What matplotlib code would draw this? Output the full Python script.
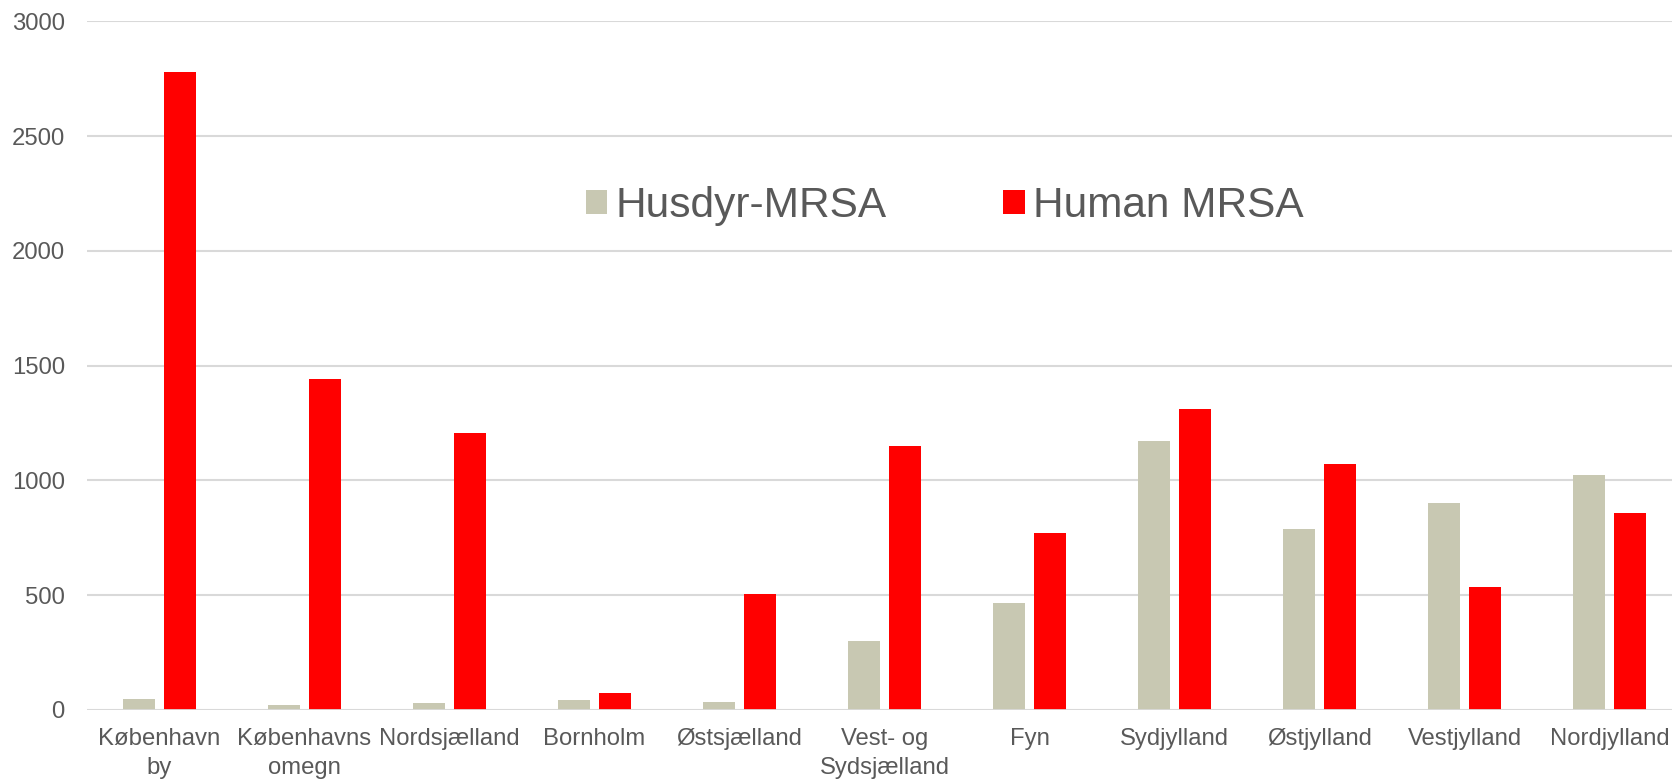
import matplotlib
matplotlib.use("Agg")
import matplotlib.pyplot as plt
import numpy as np
from matplotlib.patches import Patch

categories = ["København\nby", "Københavns\nomegn", "Nordsjælland", "Bornholm",
              "Østsjælland", "Vest- og\nSydsjælland", "Fyn", "Sydjylland",
              "Østjylland", "Vestjylland", "Nordjylland"]
husdyr = [50, 20, 30, 45, 33, 302, 464, 1170, 789, 901, 1022]
human = [2780, 1440, 1207, 74, 506, 1152, 771, 1310, 1073, 534, 859]
series_names = ["Husdyr-MRSA", "Human MRSA"]
colors = ["#C8C8B2", "#FF0000"]

plt.rcParams['font.family'] = ['Liberation Sans', 'DejaVu Sans']
text_color = "#595959"
grid_color = "#D9D9D9"

fig = plt.figure(figsize=(16.72, 7.8), dpi=100)
ax = fig.add_axes([87/1672, 70/780, 1595/1672, 688.7/780])

x = np.arange(len(categories))
w = 0.22
off = 0.1415
ax.bar(x - off, husdyr, width=w, color=colors[0], zorder=3)
ax.bar(x + off, human, width=w, color=colors[1], zorder=3)

ax.set_xlim(-0.5, len(categories) - 0.5)
ax.set_ylim(0, 3000)
ax.set_yticks(np.arange(0, 3001, 500))
ax.yaxis.grid(True, color=grid_color, linewidth=1.5, zorder=0)
ax.set_axisbelow(True)
for s in ax.spines.values():
    s.set_visible(False)
ax.axhline(0, color=grid_color, linewidth=2, zorder=4)

ax.set_xticks(x)
ax.set_xticklabels(categories, fontsize=17.2, color=text_color, linespacing=1.4)
ax.tick_params(axis='x', length=0, pad=13)
ax.tick_params(axis='y', length=0, pad=16, labelsize=17.2, labelcolor=text_color)

handles = [Patch(facecolor=c, edgecolor='none') for c in colors]
fig.legend(handles, series_names, loc='center', bbox_to_anchor=(945/1672, 1 - 206/780),
           ncol=2, frameon=False, fontsize=30.5, labelcolor=text_color,
           handlelength=0.5, handleheight=0.5, handletextpad=0.2, columnspacing=2.75)

fig.savefig("out.png", dpi=100)
